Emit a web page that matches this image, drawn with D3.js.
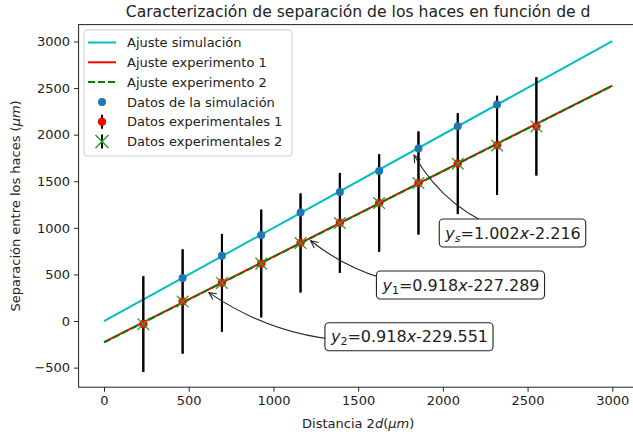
<!DOCTYPE html>
<html>
<head>
<meta charset="utf-8">
<script src="https://cdn.jsdelivr.net/npm/d3@7"></script>
<style>
  body { margin: 0; background: #fff; }
  svg { display: block; font-family: "DejaVu Sans", sans-serif; }
</style>
</head>
<body>
<svg id="chart" width="633" height="436"></svg>
<script>
// datos
const distancias = [232, 464, 696, 928, 1160, 1392, 1624, 1856, 2088, 2320, 2552];
const exp1 = [-32, 211, 411, 618, 839, 1054, 1268, 1482, 1690, 1886, 2090];
const err1 = [513, 559, 524, 578, 531, 536, 523, 553, 541, 532, 527];
const exp2 = [-34, 209, 409, 616, 837, 1052, 1266, 1480, 1688, 1884, 2088];
const err2 = [513, 559, 524, 578, 531, 536, 523, 553, 541, 532, 527];
const simX = [464, 696, 928, 1160, 1392, 1624, 1856, 2088, 2320];
const simY = [461, 700, 922, 1165, 1386, 1611, 1851, 2090, 2323];
const ajusteX = [0, 3000];
const ajusteSim = [-2.2, 3003.8];
const ajusteExp1 = [-227.3, 2526.7];
const ajusteExp2 = [-229.6, 2524.5];
const xTicks = [0, 500, 1000, 1500, 2000, 2500, 3000];
const yTicks = [-500, 0, 500, 1000, 1500, 2000, 2500, 3000];
const leyenda = ["Ajuste simulación", "Ajuste experimento 1", "Ajuste experimento 2",
  "Datos de la simulación", "Datos experimentales 1", "Datos experimentales 2"];
// anotaciones: subindice, texto, posicion del texto, punto señalado
const notas = [
  { sub: "s", resto: ["=1.002", "x", "-2.216"], tx: 2414, ty: 944, px: 1830, py: 1780 },
  { sub: "1", resto: ["=0.918", "x", "-227.289"], tx: 2107, ty: 386, px: 1220, py: 862 },
  { sub: "2", resto: ["=0.918", "x", "-229.551"], tx: 1803, ty: -168, px: 619, py: 305 }
];

const svg = d3.select("#chart");
const margin = { top: 24.6, left: 78.6, right: 637.7, bottom: 387.2 };
const fs = 13;

const x = d3.scaleLinear().domain([-150, 3150]).range([margin.left, margin.right]);
const y = d3.scaleLinear().domain([-710, 3181]).range([margin.bottom, margin.top]);

const cyan = "#00bfbf", rojo = "#ff0000", verde = "#008000", azul = "#1f77b4";

// ejes
const gx = svg.append("g")
  .attr("transform", `translate(0, ${margin.bottom})`)
  .call(d3.axisBottom(x).tickValues(xTicks).tickSize(4.5).tickPadding(4).tickFormat(d3.format("d")));
const gy = svg.append("g")
  .attr("transform", `translate(${margin.left}, 0)`)
  .call(d3.axisLeft(y).tickValues(yTicks).tickSize(4.5).tickPadding(4)
    .tickFormat(d => d < 0 ? "\u2212" + Math.abs(d) : d));
[gx, gy].forEach(g => {
  g.selectAll("text").attr("font-size", fs).attr("fill", "#222").attr("font-family", "DejaVu Sans");
  g.selectAll("line").attr("stroke", "#222");
  g.select(".domain").remove();
});

// marco
svg.append("rect")
  .attr("x", margin.left).attr("y", margin.top)
  .attr("width", margin.right - margin.left).attr("height", margin.bottom - margin.top)
  .attr("fill", "none").attr("stroke", "#222").attr("stroke-width", 1);

const plot = svg.append("g");

// lineas de ajuste
const linea = d3.line().x(d => x(d[0])).y(d => y(d[1]));
plot.append("path").datum(d3.zip(ajusteX, ajusteSim)).attr("d", linea)
  .attr("fill", "none").attr("stroke", cyan).attr("stroke-width", 2);
plot.append("path").datum(d3.zip(ajusteX, ajusteExp1)).attr("d", linea)
  .attr("fill", "none").attr("stroke", rojo).attr("stroke-width", 2);
plot.append("path").datum(d3.zip(ajusteX, ajusteExp2)).attr("d", linea)
  .attr("fill", "none").attr("stroke", verde).attr("stroke-width", 2)
  .attr("stroke-dasharray", "7,3");

// barras de error
plot.selectAll(".err1").data(d3.zip(distancias, exp1, err1)).join("line")
  .attr("x1", d => x(d[0])).attr("x2", d => x(d[0]))
  .attr("y1", d => y(d[1] - d[2])).attr("y2", d => y(d[1] + d[2]))
  .attr("stroke", "black").attr("stroke-width", 2);
plot.selectAll(".err2").data(d3.zip(distancias, exp2, err2)).join("line")
  .attr("x1", d => x(d[0])).attr("x2", d => x(d[0]))
  .attr("y1", d => y(d[1] - d[2])).attr("y2", d => y(d[1] + d[2]))
  .attr("stroke", "black").attr("stroke-width", 2);

// datos simulacion
plot.selectAll(".sim").data(d3.zip(simX, simY)).join("circle")
  .attr("cx", d => x(d[0])).attr("cy", d => y(d[1])).attr("r", 4)
  .attr("fill", azul);

// puntos experimentales
plot.selectAll(".p1").data(d3.zip(distancias, exp1)).join("circle")
  .attr("cx", d => x(d[0])).attr("cy", d => y(d[1])).attr("r", 4.2)
  .attr("fill", rojo);

function cruz(g, cx, cy, s, color, w) {
  g.append("path")
    .attr("d", `M${cx - s},${cy - s}L${cx + s},${cy + s}M${cx - s},${cy + s}L${cx + s},${cy - s}`)
    .attr("stroke", color).attr("stroke-width", w).attr("fill", "none");
}
d3.zip(distancias, exp2).forEach(d => cruz(plot, x(d[0]), y(d[1]), 5.8, "#2ca02c", 1.3));

// anotaciones
notas.forEach(n => {
  const ax = x(n.tx), ay = y(n.ty), bx = x(n.px), by = y(n.py);
  const dx = bx - ax, dy = by - ay, f = 0.2;
  const cx = (ax + bx) / 2 + f * dy, cy = (ay + by) / 2 - f * dx;
  plot.append("path")
    .attr("d", `M${ax},${ay}Q${cx},${cy} ${bx},${by}`)
    .attr("fill", "none").attr("stroke", "#222").attr("stroke-width", 1.1);
  // punta de flecha
  const ang = Math.atan2(by - cy, bx - cx), L = 8, a = 0.45;
  plot.append("path")
    .attr("d", `M${bx - L * Math.cos(ang - a)},${by - L * Math.sin(ang - a)}L${bx},${by}L${bx - L * Math.cos(ang + a)},${by - L * Math.sin(ang + a)}`)
    .attr("fill", "none").attr("stroke", "#222").attr("stroke-width", 1.1);

  const g = plot.append("g");
  const box = g.append("rect");
  const t = g.append("text").attr("font-size", 16).attr("fill", "#222")
    .attr("text-anchor", "middle").attr("x", ax).attr("y", ay + 5.5);
  t.append("tspan").attr("font-style", "italic").text("y");
  t.append("tspan").attr("font-size", 11).attr("dy", 3)
    .attr("font-style", n.sub === "s" ? "italic" : "normal").text(n.sub);
  t.append("tspan").attr("dy", -3).text(n.resto[0]);
  t.append("tspan").attr("font-style", "italic").text(n.resto[1]);
  t.append("tspan").text(n.resto[2]);
  const bb = t.node().getBBox();
  box.attr("x", bb.x - 5).attr("y", ay - 14).attr("width", bb.width + 10).attr("height", 28)
    .attr("rx", 4).attr("fill", "white").attr("stroke", "#222").attr("stroke-width", 1.1);
});

// leyenda
const lg = svg.append("g").attr("transform", "translate(84, 30)");
lg.append("rect").attr("width", 208).attr("height", 126).attr("rx", 3)
  .attr("fill", "white").attr("fill-opacity", 0.85).attr("stroke", "#ccc");
leyenda.forEach((txt, i) => {
  const yy = 12.5 + i * 19.8;
  if (i === 0) lg.append("line").attr("x1", 4).attr("x2", 32).attr("y1", yy).attr("y2", yy).attr("stroke", cyan).attr("stroke-width", 2);
  if (i === 1) lg.append("line").attr("x1", 4).attr("x2", 32).attr("y1", yy).attr("y2", yy).attr("stroke", rojo).attr("stroke-width", 2);
  if (i === 2) lg.append("line").attr("x1", 4).attr("x2", 32).attr("y1", yy).attr("y2", yy).attr("stroke", verde).attr("stroke-width", 2).attr("stroke-dasharray", "7,3");
  if (i === 3) lg.append("circle").attr("cx", 18).attr("cy", yy).attr("r", 4).attr("fill", azul);
  if (i === 4) {
    lg.append("line").attr("x1", 18).attr("x2", 18).attr("y1", yy - 7).attr("y2", yy + 7).attr("stroke", "black").attr("stroke-width", 2);
    lg.append("circle").attr("cx", 18).attr("cy", yy).attr("r", 4.2).attr("fill", rojo);
  }
  if (i === 5) {
    lg.append("line").attr("x1", 18).attr("x2", 18).attr("y1", yy - 7).attr("y2", yy + 7).attr("stroke", "black").attr("stroke-width", 2);
    cruz(lg, 18, yy, 6.5, "#2ca02c", 1.5);
  }
  lg.append("text").attr("x", 43).attr("y", yy + 4.6).attr("font-size", fs).attr("fill", "#222").text(txt);
});

// titulos
svg.append("text").attr("x", (margin.left + margin.right) / 2).attr("y", 17)
  .attr("text-anchor", "middle").attr("font-size", 15.6).attr("fill", "#222")
  .text("Caracterización de separación de los haces en función de d");

const xl = svg.append("text").attr("x", (margin.left + margin.right) / 2).attr("y", 428)
  .attr("text-anchor", "middle").attr("font-size", fs).attr("fill", "#222");
xl.append("tspan").text("Distancia 2");
xl.append("tspan").attr("font-style", "italic").text("d");
xl.append("tspan").text("(");
xl.append("tspan").attr("font-style", "italic").text("μm");
xl.append("tspan").text(")");

const yl = svg.append("text")
  .attr("transform", `translate(20, ${(margin.top + margin.bottom) / 2}) rotate(-90)`)
  .attr("text-anchor", "middle").attr("font-size", fs).attr("fill", "#222");
yl.append("tspan").text("Separación entre los haces (");
yl.append("tspan").attr("font-style", "italic").text("μm");
yl.append("tspan").text(")");
</script>
</body>
</html>
